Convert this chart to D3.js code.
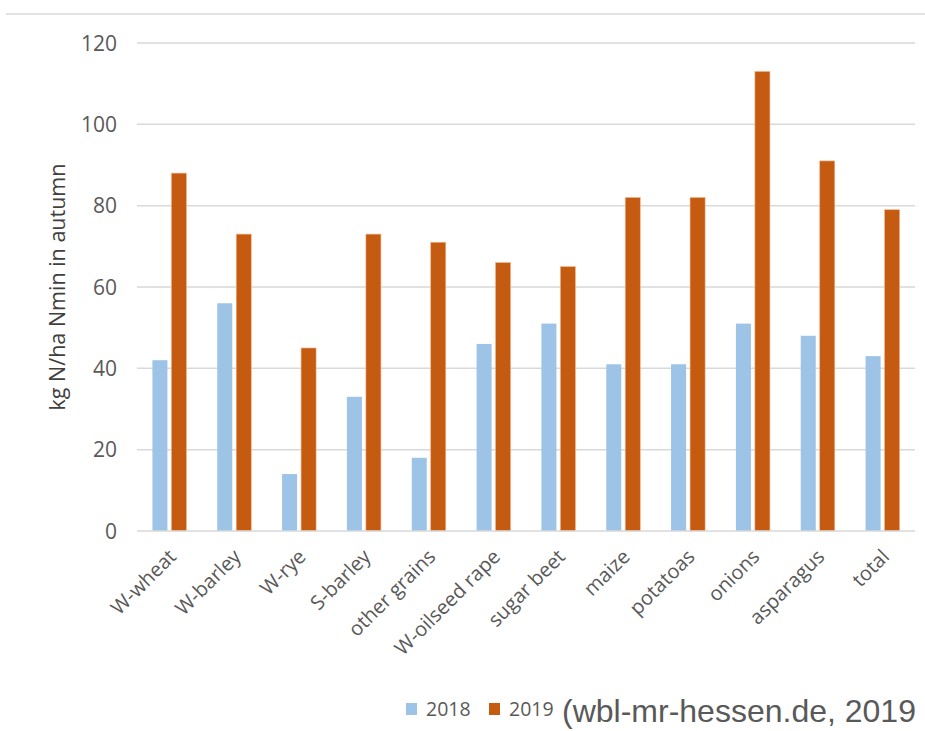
<!DOCTYPE html>
<html>
<head><meta charset="utf-8">
<style>
  body { margin: 0; background: #fff; }
</style>
</head>
<body>
<script src="https://d3js.org/d3.v7.min.js"></script>
<script>
var categories = ["W-wheat", "W-barley", "W-rye", "S-barley", "other grains", "W-oilseed rape",
                  "sugar beet", "maize", "potatoas", "onions", "asparagus", "total"];
var values2018 = [42, 56, 14, 33, 18, 46, 51, 41, 41, 51, 48, 43];
var values2019 = [88, 73, 45, 73, 71, 66, 65, 82, 82, 113, 91, 79];
var seriesNames = ["2018", "2019"];
var yTicks = [0, 20, 40, 60, 80, 100, 120];

var width = 925, height = 731;
var colors = ["#9dc3e6", "#c55a11"];
var font = "'Open Sans', sans-serif";

var svg = d3.select("body").append("svg")
    .attr("width", width)
    .attr("height", height)
    .style("font-family", font);

// top border line
svg.append("line")
    .attr("x1", 6).attr("x2", width)
    .attr("y1", 14).attr("y2", 14)
    .attr("stroke", "#d9d9d9").attr("stroke-width", 1.5);

var x = d3.scaleBand().domain(categories).range([137, 915]);
var y = d3.scaleLinear().domain([0, 120]).range([531, 43]);

// gridlines
svg.append("g").selectAll("line")
    .data(yTicks.slice(1))
    .enter().append("line")
    .attr("x1", 137).attr("x2", 915)
    .attr("y1", d => y(d)).attr("y2", d => y(d))
    .attr("stroke", "#d9d9d9").attr("stroke-width", 1.5);

// y tick labels
svg.append("g").selectAll("text")
    .data(yTicks)
    .enter().append("text")
    .attr("x", 117)
    .attr("y", d => y(d))
    .attr("dy", "0.36em")
    .attr("text-anchor", "end")
    .attr("font-size", 21)
    .attr("fill", "#595959")
    .text(d => d);

// bars
var barW = 15, gap = 4;
var groups = [values2018, values2019];
groups.forEach(function(vals, s) {
  svg.append("g").selectAll("rect")
    .data(vals)
    .enter().append("rect")
    .attr("x", (d, i) => x(categories[i]) + x.bandwidth() / 2 + (s === 0 ? -(barW + gap / 2) : gap / 2))
    .attr("y", d => y(d))
    .attr("width", barW)
    .attr("height", d => y(0) - y(d))
    .attr("fill", colors[s])
    .attr("stroke", s === 0 ? "none" : "#f4b183")
    .attr("stroke-width", 0.6);
});

// baseline
svg.append("line")
    .attr("x1", 137).attr("x2", 915)
    .attr("y1", y(0)).attr("y2", y(0))
    .attr("stroke", "#d9d9d9").attr("stroke-width", 1.5);

// category labels
svg.append("g").selectAll("text")
    .data(categories)
    .enter().append("text")
    .attr("transform", d => "translate(" + (x(d) + x.bandwidth() / 2 + 3) + ",553) rotate(-45)")
    .attr("text-anchor", "end")
    .attr("dy", "0.35em")
    .attr("font-size", 20)
    .attr("fill", "#595959")
    .text(d => d);

// y axis title
svg.append("text")
    .attr("transform", "translate(57,287) rotate(-90)")
    .attr("text-anchor", "middle")
    .attr("dy", "0.35em")
    .attr("font-size", 21.5)
    .attr("fill", "#404040")
    .text("kg N/ha Nmin in autumn");

// legend
var legend = svg.append("g");
var legendX = [406, 489];
seriesNames.forEach(function(name, i) {
  legend.append("rect")
    .attr("x", legendX[i]).attr("y", 703)
    .attr("width", 11).attr("height", 12)
    .attr("fill", colors[i]);
  legend.append("text")
    .attr("x", legendX[i] + 20).attr("y", 716)
    .attr("font-size", 19.5)
    .attr("fill", "#595959")
    .text(name);
});

svg.append("text")
    .attr("x", 562).attr("y", 722)
    .style("font-family", "'Liberation Sans', Arial, sans-serif")
    .attr("font-size", 32)
    .attr("fill", "#595959")
    .text("(wbl-mr-hessen.de, 2019");
</script>
</body>
</html>
